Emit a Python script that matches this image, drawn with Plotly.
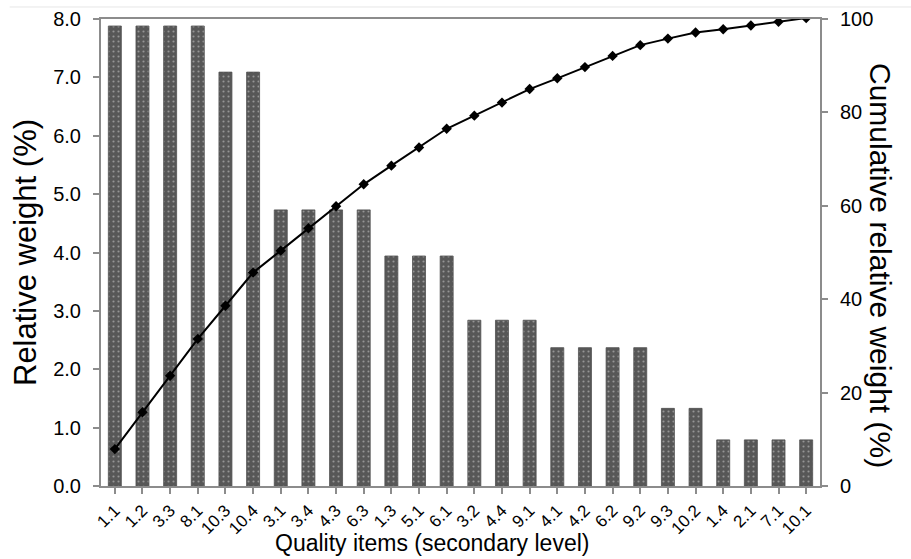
import plotly.graph_objects as go

categories = ["1.1", "1.2", "3.3", "8.1", "10.3", "10.4", "3.1", "3.4", "4.3", "6.3",
              "1.3", "5.1", "6.1", "3.2", "4.4", "9.1", "4.1", "4.2", "6.2", "9.2",
              "9.3", "10.2", "1.4", "2.1", "7.1", "10.1"]
relative_weight = [7.88, 7.88, 7.88, 7.88, 7.09, 7.09, 4.73, 4.73, 4.73, 4.73,
                   3.94, 3.94, 3.94, 2.84, 2.84, 2.84, 2.37, 2.37, 2.37, 2.37,
                   1.33, 1.33, 0.79, 0.79, 0.79, 0.79]
cumulative_weight = [7.9, 15.8, 23.6, 31.5, 38.6, 45.7, 50.4, 55.2, 59.9, 64.6,
                     68.6, 72.5, 76.5, 79.3, 82.1, 85.0, 87.3, 89.7, 92.1, 94.4,
                     95.8, 97.1, 97.8, 98.6, 99.4, 100.2]
left_ticks = [0, 1, 2, 3, 4, 5, 6, 7, 8]
right_ticks = [0, 20, 40, 60, 80, 100]

FONT = "Liberation Sans, Arial, sans-serif"
AXIS_COLOR = "#8c8c8c"

fig = go.Figure()
fig.add_trace(go.Bar(
    x=categories, y=relative_weight, width=0.47,
    marker=dict(color="#575757",
                line=dict(color="#505050", width=0.8),
                pattern=dict(shape=".", fgcolor="#d4d4d4", bgcolor="#575757",
                             size=5, solidity=0.14)),
    yaxis="y", showlegend=False,
))
fig.add_trace(go.Scatter(
    x=categories, y=cumulative_weight, mode="lines+markers",
    line=dict(color="black", width=2),
    marker=dict(symbol="diamond", size=8, color="black"),
    yaxis="y2", showlegend=False,
))

fig.update_layout(
    width=911, height=559,
    margin=dict(l=101, r=91, t=19, b=73),
    plot_bgcolor="white", paper_bgcolor="white",
    font=dict(family=FONT, color="black"),
    xaxis=dict(
        type="category", range=[-0.5, len(categories) - 0.5],
        tickangle=-45, tickfont=dict(size=17), automargin=False,
        showline=True, linecolor=AXIS_COLOR, linewidth=2, mirror=True,
        ticks="outside", ticklen=6, tickcolor=AXIS_COLOR, tickwidth=1.5,
        showgrid=False, zeroline=False,
    ),
    yaxis=dict(
        range=[0, 8], tickvals=left_ticks,
        ticktext=[f"{v:.1f}" for v in left_ticks],
        tickfont=dict(size=20), automargin=False, ticklabelstandoff=8,
        showline=True, linecolor=AXIS_COLOR, linewidth=2,
        ticks="outside", ticklen=6, tickcolor=AXIS_COLOR, tickwidth=1.5,
        showgrid=False, zeroline=False,
    ),
    yaxis2=dict(
        range=[0, 100], tickvals=right_ticks, overlaying="y", side="right",
        tickfont=dict(size=20), automargin=False, ticklabelstandoff=8,
        showline=True, linecolor=AXIS_COLOR, linewidth=2,
        ticks="outside", ticklen=6, tickcolor=AXIS_COLOR, tickwidth=1.5,
        showgrid=False, zeroline=False,
    ),
    annotations=[
        dict(text="Quality items (secondary level)", x=0.460, y=-0.122,
             xref="paper", yref="paper", showarrow=False,
             font=dict(size=23, family=FONT), xanchor="center", yanchor="middle"),
        dict(text="Relative weight (%)", x=-0.105, y=0.50, textangle=-90,
             xref="paper", yref="paper", showarrow=False,
             font=dict(size=31, family=FONT), xanchor="center", yanchor="middle"),
        dict(text="Cumulative relative weight (%)", x=1.085, y=0.473, textangle=90,
             xref="paper", yref="paper", showarrow=False,
             font=dict(size=30, family=FONT), xanchor="center", yanchor="middle"),
    ],
    shapes=[
        dict(type="line", xref="paper", yref="paper", x0=-0.127, x1=1.127,
             y0=1.0257, y1=1.0257, line=dict(color="#e6e6e6", width=1)),
    ],
)

fig.write_html("out.html", config={"displayModeBar": False},
               post_script="document.body.style.margin='0';document.body.style.padding='0';")
